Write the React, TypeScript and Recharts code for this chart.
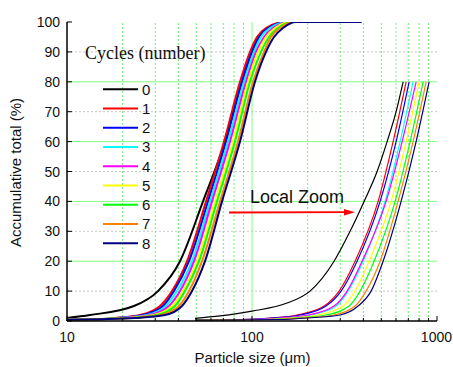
import React from 'react';
import { LineChart, Line, XAxis, YAxis, ReferenceLine } from 'recharts';

const cycles = ['0', '1', '2', '3', '4', '5', '6', '7', '8'];
const colors = ['#000000', '#ff0000', '#0000ff', '#00ffff', '#ff00ff', '#ffff00', '#00ff00', '#ff8000', '#000080'];

const xTicks = [10, 20, 30, 40, 50, 60, 70, 80, 90, 100, 200, 300, 400, 500, 600, 700, 800, 900, 1000];
const xLabelTicks = [10, 100, 1000];
const yTicks = [0, 10, 20, 30, 40, 50, 60, 70, 80, 90, 100];
const gridMajorY = [20, 40, 60, 80];
const gridMinorY = [10, 30, 50, 70, 90];
const gridMajorX = [100];
const gridMinorX = [20, 30, 40, 50, 60, 70, 80, 90, 200, 300, 400, 500, 600, 700, 800, 900];

// main curves (cumulative %)
const blackMainY = [1.0, 2, 5, 10, 20, 40, 60, 80, 90, 95, 98, 100, 100];
const blackMainX = [10, 13.32, 23.01, 31.03, 40.82, 54.36, 71.47, 88.3, 100.0, 109.1, 122.02, 156.49, 390];

const mainLevels = [0.4, 0.6, 1, 2, 5, 10, 20, 40, 60, 80, 90, 95, 98, 100, 100];
const mainX1 = [10, 15, 18.17, 24.8, 31.81, 36.94, 44.54, 56.43, 70.59, 86.13, 97.54, 106.42, 119.02, 150.76, 390];
const mainX2 = [10, 15, 18.63, 25.75, 33.03, 37.88, 45.66, 57.85, 72.37, 88.3, 100.0, 109.1, 122.02, 154.56, 390];
const mainX3 = [10, 15, 19.34, 27.06, 34.28, 39.32, 47.4, 59.31, 74.19, 90.52, 102.52, 111.85, 125.1, 156.49, 390];
const mainX4 = [10, 15, 20.07, 28.09, 35.59, 40.82, 48.6, 60.8, 76.06, 92.8, 105.1, 116.1, 129.85, 160.43, 390];
const mainX5 = [10, 15, 20.83, 29.52, 36.94, 42.37, 50.45, 63.11, 78.95, 95.14, 107.75, 119.02, 133.13, 162.44, 390];
const mainX6 = [10, 15, 21.62, 30.65, 38.35, 43.44, 51.72, 64.7, 80.93, 97.54, 111.85, 123.55, 138.19, 166.53, 390];
const mainX7 = [10, 15, 22.45, 32.21, 40.31, 45.66, 53.69, 67.16, 84.01, 101.25, 116.1, 126.66, 141.67, 168.62, 390];
const mainX8 = [10, 15, 23.3, 33.86, 41.85, 47.4, 55.73, 68.85, 86.13, 103.8, 119.02, 131.48, 147.06, 172.86, 390];

// local zoom curves
const blackLocalY = [0.9, 1.7, 3.3, 6, 10, 20, 30, 40, 50, 60, 70, 80];
const blackLocalX = [49.18, 67.15, 100.0, 154.63, 205.93, 277.7, 338.92, 403.52, 474.43, 537.37, 601.12, 655.91];

const localLevels = [0.3, 0.5, 1, 2, 5, 10, 20, 40, 60, 80];
const localX1 = [49.18, 86.13, 125.12, 175.15, 245.18, 295.53, 360.72, 480.37, 579.09, 680.86];
const localX2 = [49.18, 88.3, 128.29, 181.81, 251.36, 302.98, 369.81, 492.48, 601.12, 706.77];
const localX3 = [49.18, 103.8, 147.12, 208.51, 284.7, 330.59, 398.53, 524.16, 631.8, 742.92];
const localX4 = [49.18, 100.0, 141.72, 200.86, 277.7, 326.5, 393.6, 530.72, 647.8, 771.18];
const localX5 = [49.18, 113.26, 160.51, 227.51, 310.64, 360.72, 429.44, 564.8, 680.86, 800.53];
const localX6 = [49.18, 122.02, 172.98, 251.36, 334.73, 383.88, 457.05, 593.68, 715.62, 841.47];
const localX7 = [49.18, 131.48, 186.41, 277.7, 360.72, 413.69, 492.48, 616.27, 742.92, 873.48];
const localX8 = [49.18, 141.72, 198.38, 299.23, 374.44, 440.26, 511.27, 639.72, 771.18, 906.72];

const zip = (xs: number[], ys: number[]) => xs.map((x, i) => ({ x, y: ys[i] }));

const mainSeries = [
  zip(blackMainX, blackMainY),
  zip(mainX1, mainLevels),
  zip(mainX2, mainLevels),
  zip(mainX3, mainLevels),
  zip(mainX4, mainLevels),
  zip(mainX5, mainLevels),
  zip(mainX6, mainLevels),
  zip(mainX7, mainLevels),
  zip(mainX8, mainLevels),
];
const localSeries = [
  zip(blackLocalX, blackLocalY),
  zip(localX1, localLevels),
  zip(localX2, localLevels),
  zip(localX3, localLevels),
  zip(localX4, localLevels),
  zip(localX5, localLevels),
  zip(localX6, localLevels),
  zip(localX7, localLevels),
  zip(localX8, localLevels),
];

const FONT = '"Liberation Sans", Arial, sans-serif';
const SERIF = '"Liberation Serif", "Times New Roman", serif';

const XTickBottom = (props: any) => {
  const { x, y, payload } = props;
  const v = payload.value;
  const major = xLabelTicks.includes(v);
  const last = v === 1000;
  return (
    <g>
      <line x1={x} x2={x} y1={y} y2={y - (major ? 5 : 3)} stroke="#000" strokeWidth={1} />
      {major && (
        <text
          x={last ? x + 15 : x}
          y={y + 21}
          textAnchor={last ? 'end' : 'middle'}
          fontSize={14}
          fontFamily={FONT}
          fill="#111"
        >
          {v}
        </text>
      )}
    </g>
  );
};
const XTickTop = (props: any) => {
  const { x, y, payload } = props;
  const major = xLabelTicks.includes(payload.value);
  return <line x1={x} x2={x} y1={y} y2={y + (major ? 5 : 3)} stroke="#000" strokeWidth={1} />;
};
const YTickLeft = (props: any) => {
  const { x, y, payload } = props;
  return (
    <g>
      <line x1={x} x2={x + 5} y1={y} y2={y} stroke="#000" strokeWidth={1} />
      <text x={x - 7} y={y + 5} textAnchor="end" fontSize={14} fontFamily={FONT} fill="#111">
        {payload.value}
      </text>
    </g>
  );
};
const YTickRight = (props: any) => {
  const { x, y } = props;
  return <line x1={x} x2={x - 5} y1={y} y2={y} stroke="#000" strokeWidth={1} />;
};

export default function App() {
  const axisLine = { stroke: '#000', strokeWidth: 1.5 };
  return (
    <div style={{ position: 'absolute', left: 0, top: 0, width: 453, height: 367, background: '#fff' }}>
      <LineChart width={453} height={367} margin={{ top: 22, right: 16, bottom: 0, left: 0 }}>
        <XAxis
          xAxisId="b"
          dataKey="x"
          type="number"
          scale="log"
          domain={[10, 1000]}
          ticks={xTicks}
          interval={0}
          height={46}
          tickSize={0}
          tickMargin={0}
          tickLine={false}
          axisLine={axisLine}
          tick={<XTickBottom />}
          allowDataOverflow
        />
        <XAxis
          xAxisId="t"
          orientation="top"
          dataKey="x"
          type="number"
          scale="log"
          domain={[10, 1000]}
          ticks={xTicks}
          interval={0}
          height={0}
          tickSize={0}
          tickMargin={0}
          tickLine={false}
          axisLine={axisLine}
          tick={<XTickTop />}
          allowDataOverflow
        />
        <YAxis
          yAxisId="l"
          type="number"
          domain={[0, 100]}
          ticks={yTicks}
          interval={0}
          width={67}
          tickSize={0}
          tickMargin={0}
          tickLine={false}
          axisLine={axisLine}
          tick={<YTickLeft />}
          allowDataOverflow
        />
        <YAxis
          yAxisId="r"
          orientation="right"
          type="number"
          domain={[0, 100]}
          ticks={yTicks}
          interval={0}
          width={0}
          tickSize={0}
          tickMargin={0}
          tickLine={false}
          axisLine={axisLine}
          tick={<YTickRight />}
          allowDataOverflow
        />
        {gridMinorY.map((v) => (
          <ReferenceLine key={'my' + v} xAxisId="b" yAxisId="l" y={v} stroke="#c8c8c8" strokeDasharray="2 2" strokeWidth={1} />
        ))}
        {gridMajorY.map((v) => (
          <ReferenceLine key={'My' + v} xAxisId="b" yAxisId="l" y={v} stroke="#80ff80" strokeWidth={1} />
        ))}
        {gridMinorX.map((v) => (
          <ReferenceLine key={'mx' + v} xAxisId="b" yAxisId="l" x={v} stroke="#6fef6f" strokeDasharray="2 2" strokeWidth={1} />
        ))}
        {gridMajorX.map((v) => (
          <ReferenceLine key={'Mx' + v} xAxisId="b" yAxisId="l" x={v} stroke="#80ff80" strokeWidth={1} />
        ))}
        {mainSeries.map((d, i) => (
          <Line
            key={'m' + i}
            xAxisId="b"
            yAxisId="l"
            data={d}
            dataKey="y"
            type="monotone"
            stroke={colors[i]}
            strokeWidth={2}
            dot={false}
            isAnimationActive={false}
            name={cycles[i]}
          />
        ))}
        {localSeries.map((d, i) => (
          <Line
            key={'z' + i}
            xAxisId="b"
            yAxisId="l"
            data={d}
            dataKey="y"
            type="monotone"
            stroke={colors[i]}
            strokeWidth={1.2}
            dot={false}
            isAnimationActive={false}
            name={'zoom ' + cycles[i]}
          />
        ))}
      </LineChart>
      <svg width={453} height={367} style={{ position: 'absolute', left: 0, top: 0, pointerEvents: 'none' }}>
        <text x={85} y={59} fontFamily={SERIF} fontSize={18} fill="#111">
          Cycles (number)
        </text>
        {cycles.map((c, i) => (
          <g key={c}>
            <line x1={103} x2={138} y1={89.3 + i * 19.25} y2={89.3 + i * 19.25} stroke={colors[i]} strokeWidth={2} />
            <text x={142} y={94.5 + i * 19.25} fontFamily={FONT} fontSize={15} fill="#111">
              {c}
            </text>
          </g>
        ))}
        <text x={250} y={202.7} fontFamily={FONT} fontSize={18} fill="#111">
          Local Zoom
        </text>
        <line x1={229} y1={212.5} x2={346} y2={212.2} stroke="#ff0000" strokeWidth={1.8} />
        <polygon points="355,212.2 344,209 344,215.5" fill="#ff0000" />
        <text
          x={0}
          y={0}
          transform="translate(21,172.5) rotate(-90)"
          textAnchor="middle"
          fontFamily={FONT}
          fontSize={15}
          fill="#111"
        >
          Accumulative total (%)
        </text>
        <text x={252.5} y={363} textAnchor="middle" fontFamily={FONT} fontSize={15} fill="#111">
          Particle size (μm)
        </text>
      </svg>
    </div>
  );
}
